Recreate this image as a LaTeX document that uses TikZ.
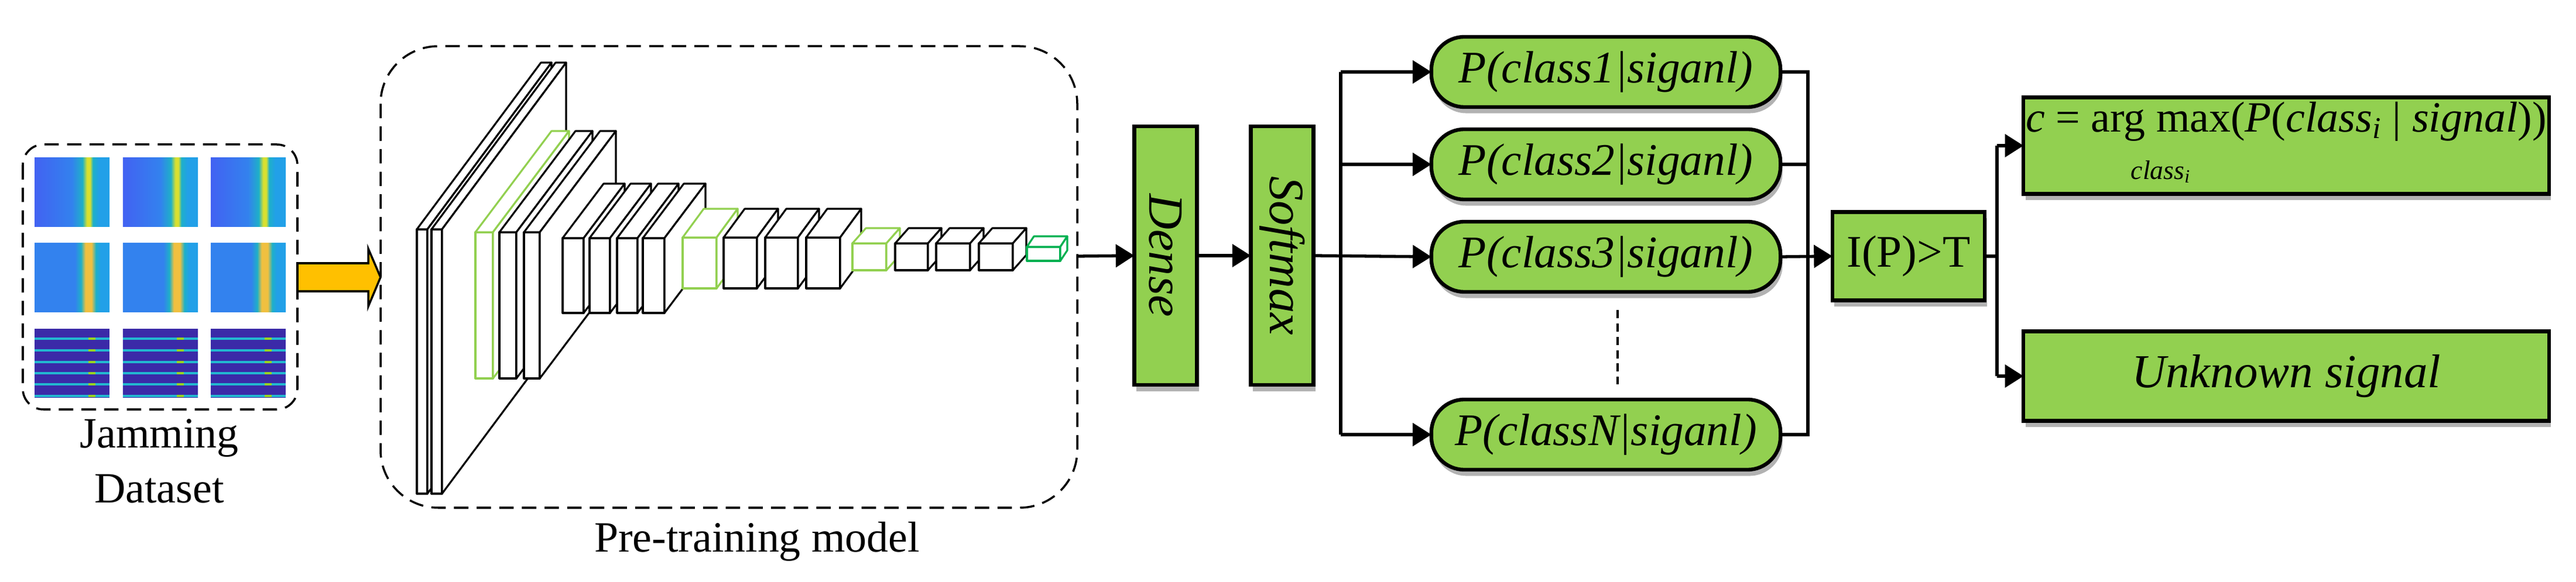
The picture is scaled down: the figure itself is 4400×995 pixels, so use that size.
\documentclass[tikz,border=0pt]{standalone}
\usepackage{fontspec}
\setmainfont{LiberationSerif}[Extension=.ttf,UprightFont=*-Regular,ItalicFont=*-Italic,BoldFont=*-Bold,BoldItalicFont=*-BoldItalic]
\usetikzlibrary{arrows.meta,shadows,calc}
\definecolor{lgreen}{HTML}{92D050}
\definecolor{dgreen}{HTML}{00B050}
\definecolor{orng}{HTML}{FFC000}
\definecolor{purp}{HTML}{3B2AA8}
\definecolor{cyanl}{HTML}{22B8D0}
\definecolor{bA}{HTML}{4262F2}
\definecolor{bB}{HTML}{3382EE}
\definecolor{cA}{HTML}{1EB0C8}
\definecolor{yA}{HTML}{D8E030}
\definecolor{cB}{HTML}{22A0E8}
\definecolor{oA}{HTML}{F0C040}
\pgfdeclarehorizontalshading{specA}{100bp}{color(0bp)=(bA);color(25bp)=(bA);color(50bp)=(bB);color(57bp)=(cA);color(60bp)=(yA);color(62bp)=(yA);color(64bp)=(cA);color(68bp)=(cB);color(75bp)=(cB);color(100bp)=(cB)}
\pgfdeclarehorizontalshading{specB}{100bp}{color(0bp)=(bB);color(25bp)=(bB);color(52bp)=(bB);color(56bp)=(cA);color(59bp)=(oA);color(63bp)=(oA);color(66bp)=(cA);color(69bp)=(cB);color(75bp)=(cB);color(100bp)=(cB)}
\newcommand\mycub[7]{%
  \draw[cubst,draw=#7] (#1,#3) rectangle (#2,#4);
  \draw[cubst,draw=#7] (#1,#3) -- (#2,#3) -- ({#2+#5},{#3+#6}) -- ({#1+#5},{#3+#6}) -- cycle;
  \draw[cubst,draw=#7] (#2,#3) -- (#2,#4) -- ({#2+#5},{#4+#6}) -- ({#2+#5},{#3+#6}) -- cycle;}
\newcommand\myimg[3]{%
  \path[shading=#3] (#1,#2) rectangle ({#1+128},{#2+118});}
\newcommand\myimgc[2]{%
  \fill[purp] (#1,#2) rectangle ({#1+128},{#2+118});
  \foreach \f in {0.144,0.314,0.485,0.644,0.807,0.977}{
    \draw[cyanl,line width=1.1pt] (#1,{#2+118*\f}) -- ({#1+128},{#2+118*\f});
    \draw[yellow!60!green,line width=1.1pt] ({#1+92},{#2+118*\f}) -- ({#1+104},{#2+118*\f});}}
\begin{document}
\begin{tikzpicture}[x=0.01cm,y=-0.01cm,
  cubst/.style={fill=white,line width=0.9pt,line join=round},
  gbox/.style={draw=black,fill=lgreen,line width=1.8pt,inner sep=0pt,outer sep=0pt,
     drop shadow={shadow xshift=1pt,shadow yshift=-3pt,opacity=0.3,fill=black}},
  pbox/.style={gbox,rounded corners=16pt,minimum width=5.96cm,minimum height=1.2cm,
     font=\fontsize{22}{24}\selectfont\itshape},
  con/.style={line width=1.5pt},
  arr/.style={con,-{Triangle[length=9pt,width=11pt]}},
  dbox/.style={dash pattern=on 7pt off 4pt,line width=1pt,rounded corners=14pt}]
\useasboundingbox (0,0) rectangle (4400,995);
% dataset
\draw[dbox,rounded corners=10pt] (39,247) rectangle (508,700);
\foreach \x in {59,210,360}{
  \myimg{\x}{270}{specA}
  \myimg{\x}{416}{specB}
  \myimgc{\x}{562}}
\node[anchor=north,inner sep=0pt,align=center,font=\fontsize{21}{26.7}\selectfont] (ds) at (272,716) {Jamming\\Dataset};
\draw[fill=orng,line width=1pt,line join=miter] (508,450) -- (629,450) -- (629,425) -- (650,474) -- (629,524) -- (629,498) -- (508,498) -- cycle;
% pretraining box
\draw[dbox,rounded corners=28pt] (650,79) rectangle (1840,868);
\node[anchor=base,inner sep=0pt,font=\fontsize{21}{24}\selectfont] (pt) at (1293,943) {Pre-training model};
\mycub{712}{730}{392}{844}{212}{-285}{black}
\mycub{737}{755}{392}{844}{212}{-285}{black}
\mycub{812}{842}{397}{647}{130}{-173}{lgreen}
\mycub{853}{882}{397}{647}{130}{-173}{black}
\mycub{895}{922}{397}{647}{130}{-173}{black}
\mycub{961}{997}{407}{535}{70}{-93}{black}
\mycub{1007}{1042}{407}{535}{70}{-93}{black}
\mycub{1054}{1089}{407}{535}{70}{-93}{black}
\mycub{1098}{1135}{407}{535}{70}{-93}{black}
\mycub{1166}{1224}{406}{493}{36}{-49}{lgreen}
\mycub{1236}{1293}{406}{493}{36}{-49}{black}
\mycub{1307}{1363}{406}{493}{36}{-49}{black}
\mycub{1377}{1435}{406}{493}{36}{-49}{black}
\mycub{1456}{1514}{416}{462}{23}{-26}{lgreen}
\mycub{1529}{1585}{416}{462}{23}{-26}{black}
\mycub{1599}{1657}{416}{462}{23}{-26}{black}
\mycub{1672}{1730}{416}{462}{23}{-26}{black}
\mycub{1754}{1811}{422}{446}{12}{-18}{dgreen}
\coordinate (ptout) at (1840,438);
% dense / softmax
\node[gbox,minimum width=1.07cm,minimum height=4.42cm] (dense) at (1991,437) {};
\node[rotate=-90,font=\fontsize{24}{26}\selectfont\itshape] at (dense.center) {Dense};
\node[gbox,minimum width=1.07cm,minimum height=4.42cm] (soft) at (2190,437) {};
\node[rotate=-90,font=\fontsize{24}{26}\selectfont\itshape] at (soft.center) {Softmax};
% P boxes
\node[pbox] (p1) at (2743,123) {P(class1|siganl)};
\node[pbox] (p2) at (2743,281) {P(class2|siganl)};
\node[pbox] (p3) at (2743,439) {P(class3|siganl)};
\node[pbox] (pn) at (2743,743) {P(classN|siganl)};
\coordinate (d1) at (2763,530);
\coordinate (d2) at (2763,657);
\draw[line width=1.2pt,dash pattern=on 4pt off 2.5pt] (d1) -- (d2);
% threshold and outputs
\node[gbox,minimum width=2.6cm,minimum height=1.51cm,font=\fontsize{22}{24}\selectfont] (ipt) at (3260,438) {I(P)>T};
\node[gbox,minimum width=8.97cm,minimum height=1.53cm,font=\fontsize{21}{24}\selectfont] (o1) at (3905,249)
  {\raisebox{12pt}{\textit{c} = \begin{tabular}[t]{@{}c@{}}arg max\\[-1pt]{\fontsize{13}{13}\selectfont\textit{class}\textsubscript{\textit{i}}}\end{tabular}(\textit{P}(\textit{class}\textsubscript{\textit{i}} | \textit{signal}))}};
\node[gbox,minimum width=8.97cm,minimum height=1.53cm,font=\fontsize{23}{25}\selectfont\itshape] (o2) at (3905,643) {Unknown signal};
% connectors
\coordinate (bl) at (2290,0);
\coordinate (br) at (3088,0);
\coordinate (bo) at (3411,0);
\draw[arr] (ptout) -- (dense.west);
\draw[arr] (dense.east) -- (soft.west);
\draw[arr] (soft.east) -- (p3.west);
\draw[con] (bl|-p1.west) -- (bl|-pn.west);
\draw[arr] (bl|-p1.west) -- (p1.west);
\draw[arr] (bl|-p2.west) -- (p2.west);
\draw[arr] (bl|-pn.west) -- (pn.west);
\draw[con] (p1.east) -- (br|-p1.east) -- (br|-pn.east) -- (pn.east);
\draw[con] (p2.east) -- (br|-p2.east);
\draw[arr] (p3.east) -- (ipt.west);
\draw[con] (ipt.east) -- (bo|-ipt.east);
\draw[con] (bo|-o1.west) -- (bo|-o2.west);
\draw[arr] (bo|-o1.west) -- (o1.west);
\draw[arr] (bo|-o2.west) -- (o2.west);
\end{tikzpicture}
\end{document}
